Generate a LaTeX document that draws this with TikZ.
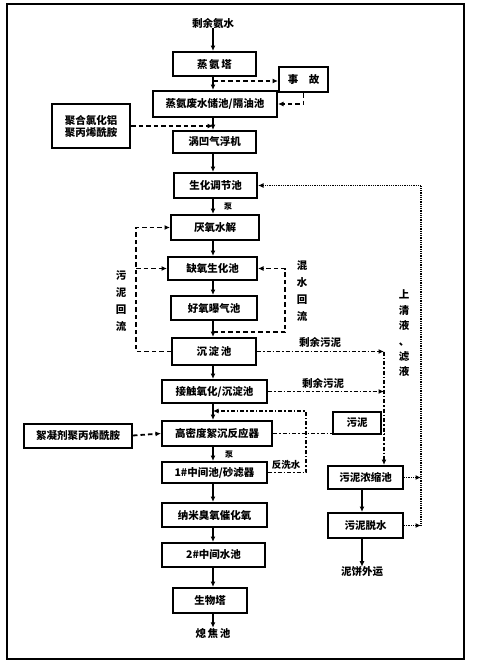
\documentclass[tikz,border=0pt]{standalone}
\usepackage{fontspec}
\usetikzlibrary{arrows.meta}
\newfontfamily\cjk{Noto Sans CJK SC}
\begin{document}
\begin{tikzpicture}[x=1pt,y=-1pt,
  box/.style={draw,line width=2pt,inner sep=0pt,font=\cjk\bfseries\fontsize{10.5}{12}\selectfont},
  lbl/.style={inner sep=0pt,font=\cjk\bfseries\fontsize{10.5}{12}\selectfont},
  vlbl/.style={inner sep=0pt,align=center,font=\cjk\bfseries\fontsize{10.5}{17}\selectfont},
  arr/.style={-{Latex[length=5.5pt,width=5pt]}},
  solidln/.style={line width=1.8pt},
  dsh/.style={line width=1.8pt,dash pattern=on 4.5pt off 3pt},
  dd/.style={line width=1.6pt,dash pattern=on 4pt off 2pt on 1.5pt off 2pt},
  dt/.style={line width=1.5pt,dash pattern=on 1pt off 0.8pt}]
\useasboundingbox (0,0) rectangle (477,664);
\draw[line width=1.8pt] (7,4) rectangle (464,659);
\coordinate (mx) at (213,0);
% main column
\node[lbl] (src) at (213,23) {剩余氨水};
\node[box,minimum width=83pt,minimum height=24pt] (zt) at (214.5,64) {蒸\,氨\,塔};
\node[box,minimum width=49pt,minimum height=25pt] (sg) at (303.5,79.5) {事\quad 故};
\node[box,minimum width=124pt,minimum height=26pt] (cc) at (215,104) {蒸氨废水储池/隔油池};
\node[box,minimum width=78pt,minimum height=44pt,align=left] (jh) at (91,126) {聚合氯化铝\\聚丙烯酰胺};
\node[box,minimum width=83pt,minimum height=22pt] (qf) at (214.5,142) {涡凹气浮机};
\node[box,minimum width=83pt,minimum height=25pt] (tj) at (215.5,185.5) {生化调节池};
\node[box,minimum width=88pt,minimum height=25pt] (yy) at (215,227.5) {厌氧水解};
\node[box,minimum width=89pt,minimum height=23pt] (qy) at (212.5,268.5) {缺氧生化池};
\node[box,minimum width=86pt,minimum height=24pt] (hy) at (214,308) {好氧曝气池};
\node[box,minimum width=84pt,minimum height=27pt] (cd) at (214,351.5) {沉\,淀\,池};
\node[box,minimum width=105pt,minimum height=23pt] (jc) at (214.5,391.5) {接触氧化/沉淀池};
\node[box,minimum width=110pt,minimum height=25pt] (gm) at (217,433.5) {高密度絮沉反应器};
\node[box,minimum width=108pt,minimum height=24pt] (xn) at (78,435.5) {絮凝剂聚丙烯酰胺};
\node[box,minimum width=105pt,minimum height=21pt] (zj) at (214.5,472.5) {1\#中间池/砂滤器};
\node[box,minimum width=105pt,minimum height=24pt] (nm) at (214.5,515) {纳米臭氧催化氧};
\node[box,minimum width=103pt,minimum height=24pt] (zj2) at (213.5,555) {2\#中间水池};
\node[box,minimum width=74pt,minimum height=25pt] (sw) at (210,600.5) {生物塔};
\node[lbl] (xj) at (213,633) {熄\,焦\,池};
% right column
\node[box,minimum width=48pt,minimum height=22pt] (wn) at (357,422.5) {污泥};
\node[box,minimum width=75pt,minimum height=23pt] (ns) at (365.5,477.5) {污泥浓缩池};
\node[box,minimum width=75pt,minimum height=25pt] (ts) at (365.5,525.5) {污泥脱水};
\node[lbl] (nb) at (362,572) {泥饼外运};
% labels
\node[lbl,font=\cjk\bfseries\fontsize{8}{9}\selectfont] (b1) at (228,207) {泵};
\node[lbl,font=\cjk\bfseries\fontsize{8}{9}\selectfont] (b2) at (229,455) {泵};
\node[vlbl] (wnhl) at (121,301) {污\\泥\\回\\流};
\node[vlbl] (hshl) at (302,291) {混\\水\\回\\流};
\node[vlbl,font=\cjk\bfseries\fontsize{10.5}{15.4}\selectfont] (sqy) at (404,333.5) {上\\清\\液\\、\\滤\\液};
\node[lbl] (sy1) at (320,342) {剩余污泥};
\node[lbl] (sy2) at (323,383) {剩余污泥};
\node[lbl,font=\cjk\bfseries\fontsize{9.5}{11}\selectfont] (fxs) at (286,465) {反洗水};
% main arrows
\draw[solidln,arr] (src.south -| mx) -- (zt.north -| mx);
\draw[solidln,arr] (zt.south -| mx) -- (cc.north -| mx);
\draw[solidln,arr] (cc.south -| mx) -- (qf.north -| mx);
\draw[solidln,arr] (qf.south -| mx) -- (tj.north -| mx);
\draw[solidln,arr] (tj.south -| mx) -- (yy.north -| mx);
\draw[solidln,arr] (yy.south -| mx) -- (qy.north -| mx);
\draw[solidln,arr] (qy.south -| mx) -- (hy.north -| mx);
\draw[solidln,arr] (hy.south -| mx) -- (cd.north -| mx);
\draw[solidln,arr] (cd.south -| mx) -- (jc.north -| mx);
\draw[solidln,arr] (jc.south -| mx) -- (gm.north -| mx);
\draw[solidln,arr] (gm.south -| mx) -- (zj.north -| mx);
\draw[solidln,arr] (zj.south -| mx) -- (nm.north -| mx);
\draw[solidln,arr] (nm.south -| mx) -- (zj2.north -| mx);
\draw[solidln,arr] (zj2.south -| mx) -- (sw.north -| mx);
\draw[solidln,arr] (sw.south -| mx) -- (xj.north -| mx);
\coordinate (nx) at (362,0);
\draw[solidln,arr] (ns.south -| nx) -- (ts.north -| nx);
\draw[solidln,arr] (ts.south -| nx) -- (nb.north -| nx);
% dashed lines
\coordinate (a1) at (213,81);
\draw[dsh,arr] (a1) -- (a1 -| sg.west);
\draw[dsh,arr] (sg.south) |- (cc.east);
\draw[dsh,arr] (jh.east) -- (jh.east -| mx);
\draw[dsh,arr] (xn.east) -- (gm.west);
\coordinate (lx) at (136,0);
\draw[dsh,arr] (cd.west) -- (cd.west -| lx) -- (yy.west -| lx) -- (yy.west);
\draw[dsh,arr] (qy.west -| lx) -- (qy.west);
\coordinate (hb) at (213,332);
\coordinate (rx) at (285,0);
\draw[dsh,arr] (hb) -- (hb -| rx) -- (qy.east -| rx) -- (qy.east);
% dash-dot lines
\coordinate (sx) at (384,0);
\draw[dd,arr] (cd.east) -- (cd.east -| sx);
\draw[dd,arr] (cd.east -| sx) -- (ns.north -| sx);
\draw[dd,arr] (jc.east) -- (jc.east -| sx);
\draw[dd] (gm.east) -- (gm.east -| sx);
\coordinate (fx) at (306,0);
\coordinate (fy) at (0,411);
\draw[dd,arr] (zj.east) -- (zj.east -| fx) -- (fx |- fy) -- (mx |- fy);
% dotted return line
\coordinate (ux) at (421,0);
\draw[dt,arr] (ts.east -| ux) -- (tj.east -| ux) -- (tj.east);
\draw[dt,arr] (ns.east) -- (ns.east -| ux);
\draw[dt,arr] (ts.east) -- (ts.east -| ux);
\end{tikzpicture}
\end{document}
